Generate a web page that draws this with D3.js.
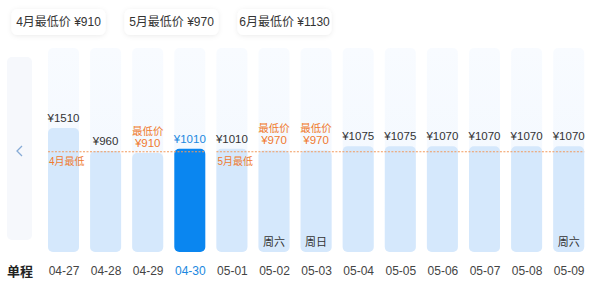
<!DOCTYPE html>
<html><head><meta charset="utf-8">
<script src="https://cdn.jsdelivr.net/npm/d3@7"></script>
<style>
html,body{margin:0;padding:0;background:#fff;}
svg{display:block;font-family:"Liberation Sans","Noto Sans CJK SC",sans-serif;}
</style></head>
<body><svg id="c" width="600" height="285"></svg>
<script>
// ---- data ----
const dates = ["04-27","04-28","04-29","04-30","05-01","05-02","05-03","05-04","05-05","05-06","05-07","05-08","05-09"];
const prices = [1510, 960, 910, 1010, 1010, 970, 970, 1075, 1075, 1070, 1070, 1070, 1070];
const weekTags = ["", "", "", "", "", "周六", "周日", "", "", "", "", "", "周六"];
const selectedDate = "04-30";
const tabMonths = ["4月", "5月", "6月"];
const tabMins = [910, 970, 1130];
const lineMonths = ["4月", "5月"];
const lineMins = [910, 970];
const lineFrom = ["04-27", "05-01"];
const lineTo = ["04-30", "05-09"];
const tripLabel = "单程";

const svg = d3.select("#c");
const ORANGE = "#f07a2e", BLUE = "#0a86f0";
const x = d3.scalePoint().domain(dates).range([63.5, 568.7]);
const y = d3.scaleLinear().domain([-1466, 1510]).range([252, 128]);
const bw = 31, bottom = 252;

// shadow filter
const defs = svg.append("defs");
const f = defs.append("filter").attr("id","sh").attr("x","-20%").attr("y","-40%").attr("width","140%").attr("height","180%");
f.append("feDropShadow").attr("dx",0).attr("dy",1).attr("stdDeviation",2.5).attr("flood-color","#000").attr("flood-opacity",0.08);
const g = defs.append("linearGradient").attr("id","bg").attr("x1",0).attr("y1",0).attr("x2",0).attr("y2",1);
g.append("stop").attr("offset","0%").attr("stop-color","#f8fbff");
g.append("stop").attr("offset","100%").attr("stop-color","#f1f7fe");

// tabs
const tabX = d3.scalePoint().domain(tabMonths).range([58.5, 284.5]);
const tabs = svg.selectAll("g.tab").data(tabMonths).join("g").attr("class","tab")
  .attr("transform", d => `translate(${tabX(d)},22)`);
tabs.append("rect").attr("x",-47).attr("y",-13).attr("width",94).attr("height",26).attr("rx",6)
  .attr("fill","#fff").attr("filter","url(#sh)");
tabs.append("text").attr("text-anchor","middle").attr("dy","0.36em").attr("font-size",12).attr("fill","#333")
  .text((d,i) => `${d}最低价 ¥${tabMins[i]}`);

// left nav
svg.append("rect").attr("x",7).attr("y",57).attr("width",25).attr("height",183).attr("rx",5).attr("fill","#f6f8fc");
svg.append("path").attr("d","M22,146 L17,151 L22,156").attr("fill","none").attr("stroke","#86abd6").attr("stroke-width",1.3);

// background columns
svg.selectAll("rect.bgc").data(dates).join("rect").attr("class","bgc")
  .attr("x", d => x(d) - bw/2).attr("y", 48).attr("width", bw).attr("height", bottom - 48).attr("rx",5)
  .attr("fill","url(#bg)");

// bars
svg.selectAll("rect.bar").data(dates).join("rect").attr("class","bar")
  .attr("x", d => x(d) - bw/2).attr("y", (d,i) => y(prices[i])).attr("width", bw)
  .attr("height", (d,i) => bottom - y(prices[i])).attr("rx",5)
  .attr("fill", d => d === selectedDate ? BLUE : "#d5e8fc");

// month min lines
lineMonths.forEach((m,i) => {
  const ly = (y(lineMins[0]) + y(lineMins[1]))/2;
  svg.append("line").attr("x1", x(lineFrom[i]) - bw/2).attr("x2", x(lineTo[i]) + bw/2)
    .attr("y1", ly).attr("y2", ly).attr("stroke", "#f29a5c").attr("stroke-width",1).attr("stroke-dasharray","2,1.5");
  svg.append("text").attr("x", x(lineFrom[i]) - bw/2 + 1).attr("y", ly + 6).attr("dy","0.71em")
    .attr("font-size",10).attr("fill",ORANGE).text(`${m}最低`);
});

// price labels
const monthOf = d => d.slice(0,2);
const minOf = d => lineMins[lineMonths.indexOf(+monthOf(d) + "月")];
dates.forEach((d,i) => {
  const top = y(prices[i]);
  const isMin = prices[i] === minOf(d);
  if (isMin) {
    svg.append("text").attr("x", x(d)).attr("y", top - 22).attr("dy","0.36em").attr("text-anchor","middle")
      .attr("font-size",10.5).attr("fill",ORANGE).text("最低价");
    svg.append("text").attr("x", x(d)).attr("y", top - 10.5).attr("dy","0.36em").attr("text-anchor","middle")
      .attr("font-size",11.5).attr("fill",ORANGE).text(`¥${prices[i]}`);
  } else {
    svg.append("text").attr("x", x(d)).attr("y", top - 10).attr("dy","0.36em").attr("text-anchor","middle")
      .attr("font-size",11.5).attr("fill", d === selectedDate ? "#1b88e0" : "#333").text(`¥${prices[i]}`);
  }
  if (weekTags[i]) {
    svg.append("text").attr("x", x(d)).attr("y", 242).attr("dy","0.36em").attr("text-anchor","middle")
      .attr("font-size",11).attr("fill","#333").text(weekTags[i]);
  }
});

// date axis
const ax = svg.append("g").attr("transform", "translate(0,271)")
  .call(d3.axisBottom(x).tickSize(0).tickPadding(0));
ax.select(".domain").remove();
ax.selectAll("text").attr("y",0).attr("dy","0.36em").attr("font-size",12)
  .attr("font-family","Liberation Sans, Noto Sans CJK SC, sans-serif")
  .attr("fill", d => d === selectedDate ? "#1b88e0" : "#444");
svg.append("text").attr("x",20).attr("y",271).attr("dy","0.36em").attr("text-anchor","middle")
  .attr("font-size",13).attr("font-weight","bold").attr("fill","#222").text(tripLabel);
</script></body></html>
